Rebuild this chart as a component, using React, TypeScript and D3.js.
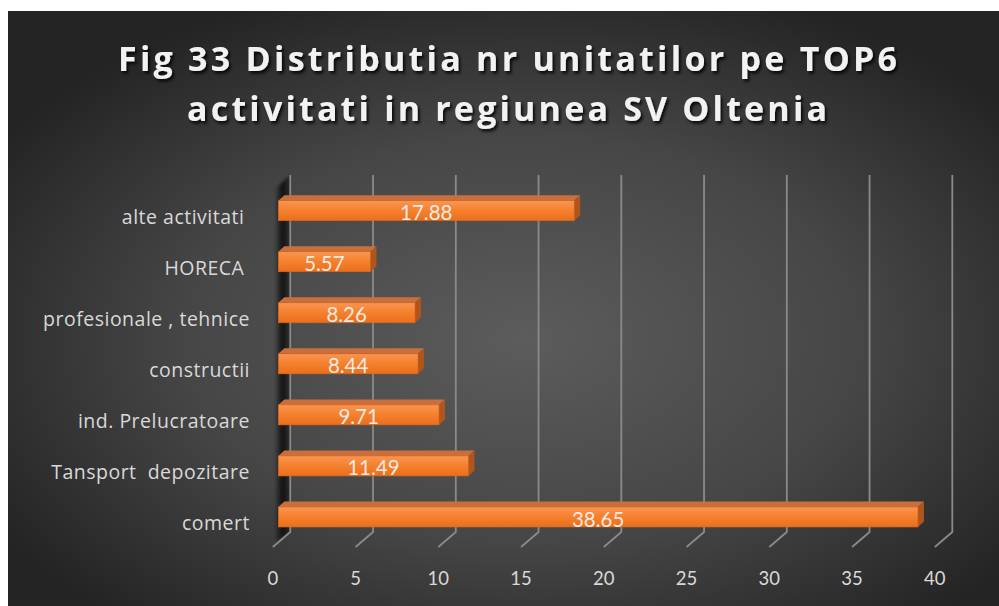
import React from "react";
import * as d3 from "d3";

const categories = [
  "alte activitati ",
  "HORECA ",
  "profesionale , tehnice",
  "constructii",
  "ind. Prelucratoare",
  "Tansport  depozitare",
  "comert",
];
const values = [17.88, 5.57, 8.26, 8.44, 9.71, 11.49, 38.65];
const tickValues = [0, 5, 10, 15, 20, 25, 30, 35, 40];
const titleLines = ["Fig 33 Distributia nr unitatilor pe TOP6", "activitati in regiunea SV Oltenia"];

const W = 999;
const H = 606;

const noLig = { fontVariantLigatures: "none", fontFeatureSettings: '"liga" 0, "clig" 0' } as React.CSSProperties;

export default function App() {
  const x = d3.scaleLinear().domain([0, 40]).range([278.3, 940.3]);
  const y = d3.scalePoint<string>().domain(categories).range([210.7, 517]);
  const backDx = 12;
  const frontDx = -5.5;
  const gridTop = 175;
  const backBottom = 532;
  const floorFront = 547;
  const barH = 20;
  const depthX = 6;
  const depthY = 5.5;

  return (
    <svg
      width={W}
      height={H}
      style={{ position: "absolute", left: 0, top: 0 }}
      xmlns="http://www.w3.org/2000/svg"
    >
      <defs>
        <radialGradient id="bg" cx="52%" cy="55%" r="62%" fx="52%" fy="55%">
          <stop offset="0%" stopColor="#5c5c5c" />
          <stop offset="55%" stopColor="#464646" />
          <stop offset="100%" stopColor="#242424" />
        </radialGradient>
        <linearGradient id="barFront" x1="0" y1="0" x2="0" y2="1">
          <stop offset="0%" stopColor="#fa9552" />
          <stop offset="45%" stopColor="#f5822f" />
          <stop offset="100%" stopColor="#eb6e1b" />
        </linearGradient>
        <linearGradient id="wallShadow" x1="0" y1="0" x2="1" y2="0">
          <stop offset="0%" stopColor="#000" stopOpacity="0.05" />
          <stop offset="50%" stopColor="#000" stopOpacity="0.75" />
          <stop offset="100%" stopColor="#000" stopOpacity="0.35" />
        </linearGradient>
        <filter id="blur2" x="-50%" y="-10%" width="200%" height="120%">
          <feGaussianBlur stdDeviation="1.8" />
        </filter>
        <filter id="titleShadow" x="-10%" y="-30%" width="120%" height="160%">
          <feDropShadow dx="2" dy="2.5" stdDeviation="1.6" floodColor="#000" floodOpacity="0.85" />
        </filter>
      </defs>

      <rect x={8} y={11} width={W - 8} height={H - 11} fill="url(#bg)" />

      {/* left wall shadow */}
      <polygon
        points={`${x(0) + backDx},${gridTop} ${x(0) + backDx},${backBottom} ${x(0) + frontDx + 2},${floorFront - 4} ${x(0) + frontDx + 2},${gridTop + 14}`}
        fill="url(#wallShadow)"
        filter="url(#blur2)"
      />

      {/* gridlines: back wall + floor */}
      {tickValues.map((t) => (
        <path
          key={"g" + t}
          d={`M${x(t) + backDx},${gridTop} L${x(t) + backDx},${backBottom} L${x(t) + frontDx},${floorFront}`}
          fill="none"
          stroke="#8a8a8a"
          strokeWidth={1.8}
        />
      ))}

      {/* bars */}
      {categories.map((c, i) => {
        const cy = y(c) as number;
        const yt = cy - barH / 2;
        const yb = cy + barH / 2;
        const x0 = x(0);
        const x1 = x(values[i]);
        return (
          <g key={"b" + c}>
            <polygon
              points={`${x0},${yt} ${x1},${yt} ${x1 + depthX},${yt - depthY} ${x0 + depthX},${yt - depthY}`}
              fill="#c96f3d"
            />
            <polygon
              points={`${x1},${yt} ${x1 + depthX},${yt - depthY} ${x1 + depthX},${yb - depthY} ${x1},${yb}`}
              fill="#b0551c"
            />
            <rect x={x0} y={yt} width={x1 - x0} height={barH} fill="url(#barFront)" stroke="#d9661c" strokeWidth={0.6} />
            <text
              x={(x0 + x1) / 2}
              y={yb - 0.5}
              textAnchor="middle"
              fontFamily="Lato, sans-serif"
              fontSize={20.5}
              fill="#efe9e4"
            >
              {values[i].toFixed(2)}
            </text>
          </g>
        );
      })}

      {/* category labels */}
      {categories.map((c) => (
        <text
          key={"l" + c}
          x={250}
          y={(y(c) as number) + 13}
          textAnchor="end"
          fontFamily="'Open Sans', sans-serif"
          fontSize={19.5}
          letterSpacing={0.5}
          fill="#d9d9d9"
          style={{ whiteSpace: "pre", ...noLig }}
        >
          {c}
        </text>
      ))}

      {/* tick labels */}
      {tickValues.map((t) => (
        <text
          key={"t" + t}
          x={x(t) + frontDx}
          y={585}
          textAnchor="middle"
          fontFamily="Lato, sans-serif"
          fontSize={18.5}
          fill="#d9d9d9"
        >
          {t}
        </text>
      ))}

      {/* title */}
      <g filter="url(#titleShadow)">
        <text
          x={118}
          y={71}
          fontFamily="'Open Sans', sans-serif"
          fontWeight="bold"
          fontSize={34}
          fill="#f2f2f2"
          textLength={779}
          lengthAdjust="spacing"
          style={noLig}
        >
          {titleLines[0]}
        </text>
        <text
          x={187}
          y={121}
          fontFamily="'Open Sans', sans-serif"
          fontWeight="bold"
          fontSize={34}
          fill="#f2f2f2"
          textLength={640}
          lengthAdjust="spacing"
          style={noLig}
        >
          {titleLines[1]}
        </text>
      </g>
    </svg>
  );
}
